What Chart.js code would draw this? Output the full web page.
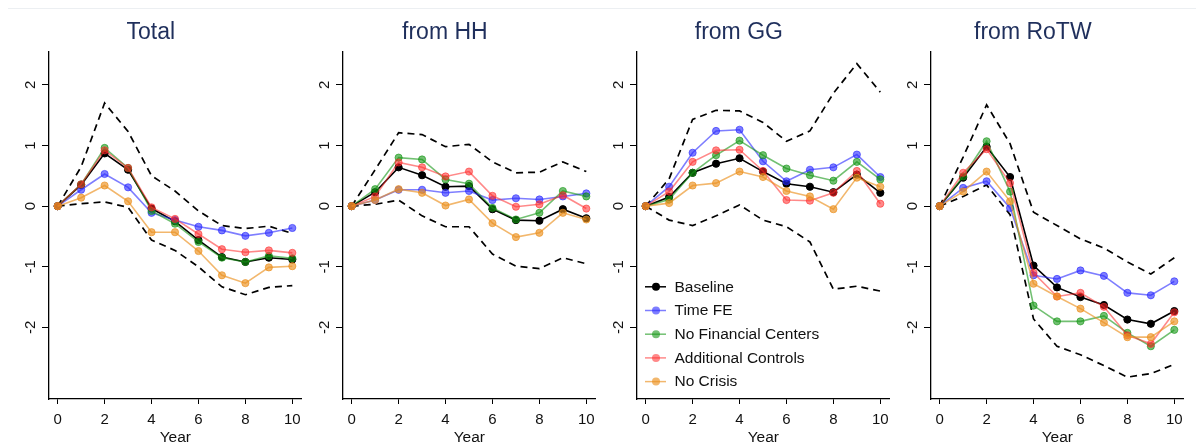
<!DOCTYPE html>
<html>
<head>
<meta charset="utf-8">
<title>Impulse responses</title>
<script src="https://cdn.jsdelivr.net/npm/chart.js@4.4.1/dist/chart.umd.min.js"></script>
<style>
  body { margin: 0; background: #fff; }
  #wrap { position: relative; width: 1196px; height: 447px; overflow: hidden; }
  #wrap .rule { position: absolute; left: 8px; right: 0; top: 8px; border-top: 1px solid #eceff2; }
  #wrap canvas { position: absolute; top: 0; }
</style>
</head>
<body>
<div id="wrap"><div class="rule"></div></div>

<script>
// horizon (years after the shock) and axis ticks
const years = [0, 1, 2, 3, 4, 5, 6, 7, 8, 9, 10];
const xTicks = [0, 2, 4, 6, 8, 10];
const yTicks = [-2, -1, 0, 1, 2];

const panelTitles = ['Total', 'from HH', 'from GG', 'from RoTW'];
const seriesNames = ['Baseline', 'Time FE', 'No Financial Centers', 'Additional Controls', 'No Crisis'];

// Total
const totalUpper    = [0, 0.65, 1.70, 1.23, 0.50, 0.25, -0.08, -0.32, -0.37, -0.33, -0.45];
const totalLower    = [0, 0.04, 0.07, -0.02, -0.56, -0.73, -1.00, -1.33, -1.46, -1.34, -1.31];
const totalBaseline = [0, 0.35, 0.87, 0.60, -0.04, -0.25, -0.56, -0.84, -0.92, -0.85, -0.88];
const totalTimeFE   = [0, 0.27, 0.53, 0.31, -0.11, -0.23, -0.34, -0.40, -0.49, -0.44, -0.36];
const totalNoFC     = [0, 0.36, 0.96, 0.63, -0.08, -0.29, -0.59, -0.85, -0.92, -0.82, -0.86];
const totalControls = [0, 0.36, 0.92, 0.63, -0.02, -0.21, -0.46, -0.71, -0.76, -0.73, -0.77];
const totalNoCrisis = [0, 0.14, 0.34, 0.08, -0.43, -0.43, -0.74, -1.14, -1.27, -1.01, -0.99];

// from HH
const hhUpper    = [0, 0.60, 1.21, 1.18, 0.98, 1.02, 0.73, 0.55, 0.56, 0.73, 0.57];
const hhLower    = [0, 0.03, 0.10, -0.16, -0.34, -0.34, -0.79, -0.99, -1.03, -0.85, -0.95];
const hhBaseline = [0, 0.23, 0.64, 0.51, 0.32, 0.33, -0.05, -0.23, -0.24, -0.05, -0.20];
const hhTimeFE   = [0, 0.10, 0.27, 0.27, 0.22, 0.25, 0.10, 0.13, 0.11, 0.16, 0.21];
const hhNoFC     = [0, 0.28, 0.80, 0.77, 0.44, 0.37, -0.03, -0.22, -0.11, 0.25, 0.16];
const hhControls = [0, 0.16, 0.72, 0.64, 0.49, 0.57, 0.17, -0.01, 0.03, 0.18, -0.04];
const hhNoCrisis = [0, 0.10, 0.28, 0.22, 0.01, 0.11, -0.28, -0.51, -0.44, -0.11, -0.22];

// from GG
const ggUpper    = [0, 0.45, 1.43, 1.58, 1.57, 1.38, 1.07, 1.24, 1.86, 2.35, 1.88];
const ggLower    = [0, -0.23, -0.32, -0.16, 0.02, -0.23, -0.34, -0.59, -1.37, -1.32, -1.40];
const ggBaseline = [0, 0.15, 0.55, 0.70, 0.79, 0.57, 0.37, 0.32, 0.23, 0.52, 0.22];
const ggTimeFE   = [0, 0.32, 0.88, 1.24, 1.26, 0.74, 0.41, 0.60, 0.64, 0.85, 0.48];
const ggNoFC     = [0, 0.11, 0.55, 0.84, 1.08, 0.84, 0.62, 0.51, 0.42, 0.73, 0.44];
const ggControls = [0, 0.24, 0.73, 0.92, 0.93, 0.58, 0.10, 0.09, 0.22, 0.58, 0.04];
const ggNoCrisis = [0, 0.05, 0.34, 0.38, 0.57, 0.48, 0.25, 0.16, -0.05, 0.47, 0.32];

// from RoTW
const rowUpper    = [0, 0.81, 1.67, 1.03, -0.10, -0.32, -0.54, -0.69, -0.92, -1.12, -0.85];
const rowLower    = [0, 0.16, 0.35, -0.14, -1.86, -2.31, -2.45, -2.63, -2.82, -2.76, -2.61];
const rowBaseline = [0, 0.47, 0.98, 0.48, -0.98, -1.34, -1.50, -1.63, -1.87, -1.94, -1.73];
const rowTimeFE   = [0, 0.30, 0.41, -0.03, -1.14, -1.20, -1.06, -1.15, -1.43, -1.47, -1.24];
const rowNoFC     = [0, 0.49, 1.07, 0.24, -1.64, -1.90, -1.90, -1.81, -2.09, -2.31, -2.04];
const rowControls = [0, 0.55, 0.94, 0.38, -1.10, -1.49, -1.43, -1.66, -2.13, -2.27, -1.75];
const rowNoCrisis = [0, 0.24, 0.57, 0.08, -1.28, -1.49, -1.69, -1.92, -2.16, -2.16, -1.90];

const panels = [
  { bands: [totalUpper, totalLower], series: [totalBaseline, totalTimeFE, totalNoFC, totalControls, totalNoCrisis] },
  { bands: [hhUpper, hhLower],       series: [hhBaseline, hhTimeFE, hhNoFC, hhControls, hhNoCrisis] },
  { bands: [ggUpper, ggLower],       series: [ggBaseline, ggTimeFE, ggNoFC, ggControls, ggNoCrisis] },
  { bands: [rowUpper, rowLower],     series: [rowBaseline, rowTimeFE, rowNoFC, rowControls, rowNoCrisis] }
];

const seriesColors = [
  '#000000',
  'rgba(40, 40, 255, 0.6)',
  'rgba(20, 150, 20, 0.6)',
  'rgba(255, 40, 40, 0.55)',
  'rgba(235, 145, 30, 0.65)'
];

const FONT = '"Liberation Sans", Arial, sans-serif';
const TEXT = '#111';

const toPoints = vals => vals.map((v, i) => ({ x: years[i], y: v }));

// y labels are drawn turned on their side, reading upward
const yTickLabels = {
  id: 'yTickLabels',
  afterDraw(chart) {
    const { ctx, chartArea } = chart;
    const y = chart.scales.y;
    ctx.save();
    ctx.font = '15px ' + FONT;
    ctx.fillStyle = TEXT;
    ctx.textAlign = 'center';
    ctx.textBaseline = 'middle';
    yTicks.forEach(v => {
      ctx.save();
      ctx.translate(chartArea.left - 18.5, y.getPixelForValue(v));
      ctx.rotate(-Math.PI / 2);
      ctx.fillText(String(v), 0, 0);
      ctx.restore();
    });
    ctx.restore();
  }
};

// legend box sitting inside the plot, lower left
const insideLegend = {
  id: 'insideLegend',
  afterDraw(chart) {
    const { ctx, chartArea } = chart;
    const left = chartArea.left;
    ctx.save();
    ctx.font = '15.5px ' + FONT;
    ctx.textAlign = 'left';
    ctx.textBaseline = 'middle';
    seriesNames.forEach((name, i) => {
      const yy = chartArea.top + 234.7 + i * 23.7;
      const col = seriesColors[i];
      ctx.strokeStyle = col;
      ctx.lineWidth = 1.5;
      ctx.beginPath();
      ctx.moveTo(left + 8, yy);
      ctx.lineTo(left + 29, yy);
      ctx.stroke();
      ctx.fillStyle = col;
      ctx.beginPath();
      ctx.arc(left + 19, yy, 4, 0, Math.PI * 2);
      ctx.fill();
      ctx.fillStyle = TEXT;
      ctx.fillText(name, left + 37.5, yy + 0.5);
    });
    ctx.restore();
  }
};

const wrap = document.getElementById('wrap');

panels.forEach((panel, p) => {
  const canvas = document.createElement('canvas');
  canvas.width = 310;
  canvas.height = 447;
  canvas.style.left = (p * 294) + 'px';
  canvas.style.width = '310px';
  canvas.style.height = '447px';
  wrap.appendChild(canvas);

  const datasets = [];
  panel.bands.forEach(vals => {
    datasets.push({
      data: toPoints(vals),
      borderColor: '#000',
      borderWidth: 1.7,
      borderDash: [7, 5],
      pointRadius: 0,
      fill: false,
      order: 10
    });
  });
  panel.series.forEach((vals, k) => {
    const col = seriesColors[k];
    datasets.push({
      label: seriesNames[k],
      data: toPoints(vals),
      borderColor: col,
      backgroundColor: col,
      pointBackgroundColor: col,
      pointBorderColor: col,
      borderWidth: 1.6,
      pointRadius: 3.6,
      pointBorderWidth: 1,
      fill: false,
      order: 5 - k   // baseline underneath, no-crisis on top
    });
  });

  new Chart(canvas, {
    type: 'line',
    data: { datasets },
    plugins: p === 2 ? [yTickLabels, insideLegend] : [yTickLabels],
    options: {
      responsive: false,
      animation: false,
      events: [],
      layout: { padding: { left: 0, right: 8.3, top: 0, bottom: 0 } },
      elements: { line: { tension: 0 } },
      plugins: {
        legend: { display: false },
        tooltip: { enabled: false },
        title: {
          display: true,
          text: panelTitles[p],
          color: '#1f2f5c',
          font: { family: FONT, size: 23, weight: 'normal' },
          padding: { top: 18.5, bottom: 6 }
        }
      },
      scales: {
        x: {
          type: 'linear',
          min: -0.37,
          max: 10.4,
          afterBuildTicks: s => { s.ticks = xTicks.map(v => ({ value: v })); },
          afterFit: s => { s.height = 48; },
          grid: { drawOnChartArea: false, drawTicks: true, tickLength: 5, color: '#000' },
          border: { color: '#000', width: 1.3 },
          ticks: { color: TEXT, font: { family: FONT, size: 15 }, padding: 7, maxRotation: 0, autoSkip: false },
          title: { display: true, text: 'Year', color: TEXT, font: { family: FONT, size: 15.5 }, padding: 0 }
        },
        y: {
          type: 'linear',
          min: -3.18,
          max: 2.54,
          afterBuildTicks: s => { s.ticks = yTicks.map(v => ({ value: v })); },
          afterFit: s => { s.width = 49; },
          grid: { drawOnChartArea: false, drawTicks: true, tickLength: 7, color: '#000' },
          border: { color: '#000', width: 1.3 },
          ticks: { display: false }
        }
      }
    }
  });
});
</script>
</body>
</html>
